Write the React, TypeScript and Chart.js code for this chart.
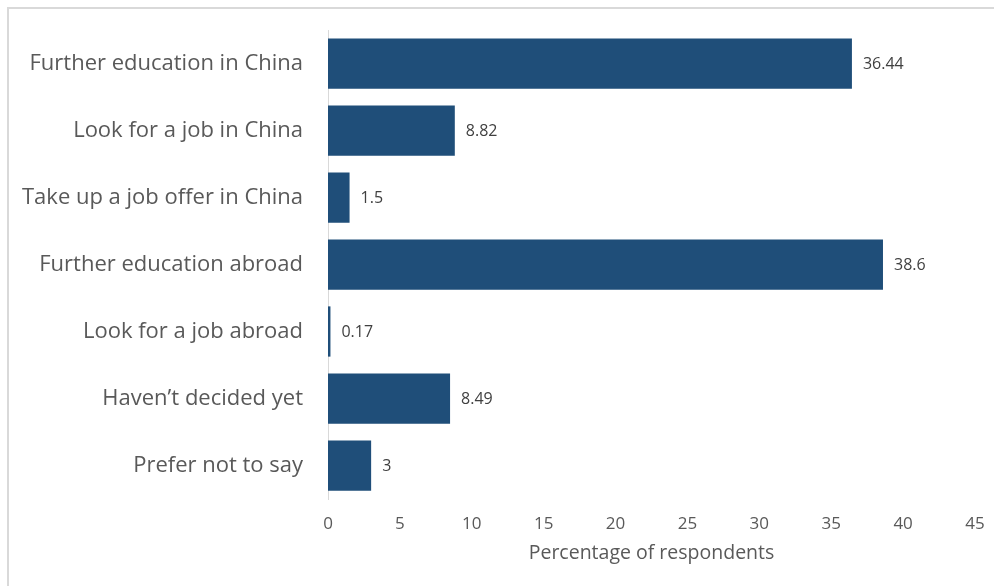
import React, { useEffect, useRef } from "react";
import { Chart, registerables } from "chart.js";

Chart.register(...registerables);

const categories = [
  "Further education in China",
  "Look for a job in China",
  "Take up a job offer in China",
  "Further education abroad",
  "Look for a job abroad",
  "Haven\u2019t decided yet",
  "Prefer not to say",
];
const values = [36.44, 8.82, 1.5, 38.6, 0.17, 8.49, 3];
const xTicks = [0, 5, 10, 15, 20, 25, 30, 35, 40, 45];

const FONT = "'Open Sans', 'Noto Sans', sans-serif";

const dataLabels = {
  id: "dataLabels",
  afterDatasetsDraw(chart: any) {
    const ctx = chart.ctx;
    const meta = chart.getDatasetMeta(0);
    ctx.save();
    ctx.font = `16px ${FONT}`;
    ctx.fillStyle = "#404040";
    ctx.textAlign = "left";
    ctx.textBaseline = "middle";
    meta.data.forEach((bar: any, i: number) => {
      ctx.fillText(String(values[i]), bar.x + 11, bar.y + 1);
    });
    ctx.restore();
  },
};

export default function App() {
  const ref = useRef<HTMLCanvasElement>(null);
  useEffect(() => {
    if (!ref.current) return;
    const chart = new Chart(ref.current, {
      type: "bar",
      data: {
        labels: categories,
        datasets: [
          {
            data: values,
            backgroundColor: "#1F4E79",
            barPercentage: 0.75,
            categoryPercentage: 1,
          },
        ],
      },
      options: {
        indexAxis: "y",
        animation: false,
        responsive: false,
        maintainAspectRatio: false,
        layout: { padding: { left: 0, right: 19, top: 30, bottom: 0 } },
        plugins: { legend: { display: false }, tooltip: { enabled: false } },
        scales: {
          x: {
            min: 0,
            max: 45,
            afterBuildTicks(axis: any) {
              axis.ticks = xTicks.map((v) => ({ value: v }));
            },
            grid: { display: false, drawTicks: false },
            border: { display: false },
            ticks: {
              color: "#595959",
              font: { family: FONT, size: 17 },
              padding: 15,
              maxRotation: 0,
            },
            title: {
              display: true,
              text: "Percentage of respondents",
              color: "#595959",
              font: { family: FONT, size: 19.5 },
              padding: { top: 0, bottom: 21 },
            },
            afterFit(axis: any) {
              axis.height = 87;
              axis.paddingLeft = 0;
              axis.paddingRight = 0;
            },
          },
          y: {
            grid: { display: false, drawTicks: false },
            border: { display: true, color: "#d9d9d9", width: 1 },
            ticks: {
              color: "#595959",
              font: { family: FONT, size: 22 },
              padding: 25,
            },
            afterFit(axis: any) {
              axis.width = 328;
              axis.paddingTop = 0;
              axis.paddingBottom = 0;
            },
          },
        },
      },
      plugins: [dataLabels],
    });
    return () => chart.destroy();
  }, []);
  return (
    <div style={{ position: "fixed", left: 0, top: 0, width: 994, height: 586, background: "#fff", overflow: "hidden" }}>
      <div
        style={{
          position: "absolute",
          left: 7,
          top: 7,
          width: 1100,
          height: 700,
          borderTop: "2px solid #d9d9d9",
          borderLeft: "2px solid #d9d9d9",
        }}
      />
      <canvas ref={ref} width={994} height={586} style={{ position: "absolute", left: 0, top: 0 }} />
    </div>
  );
}
